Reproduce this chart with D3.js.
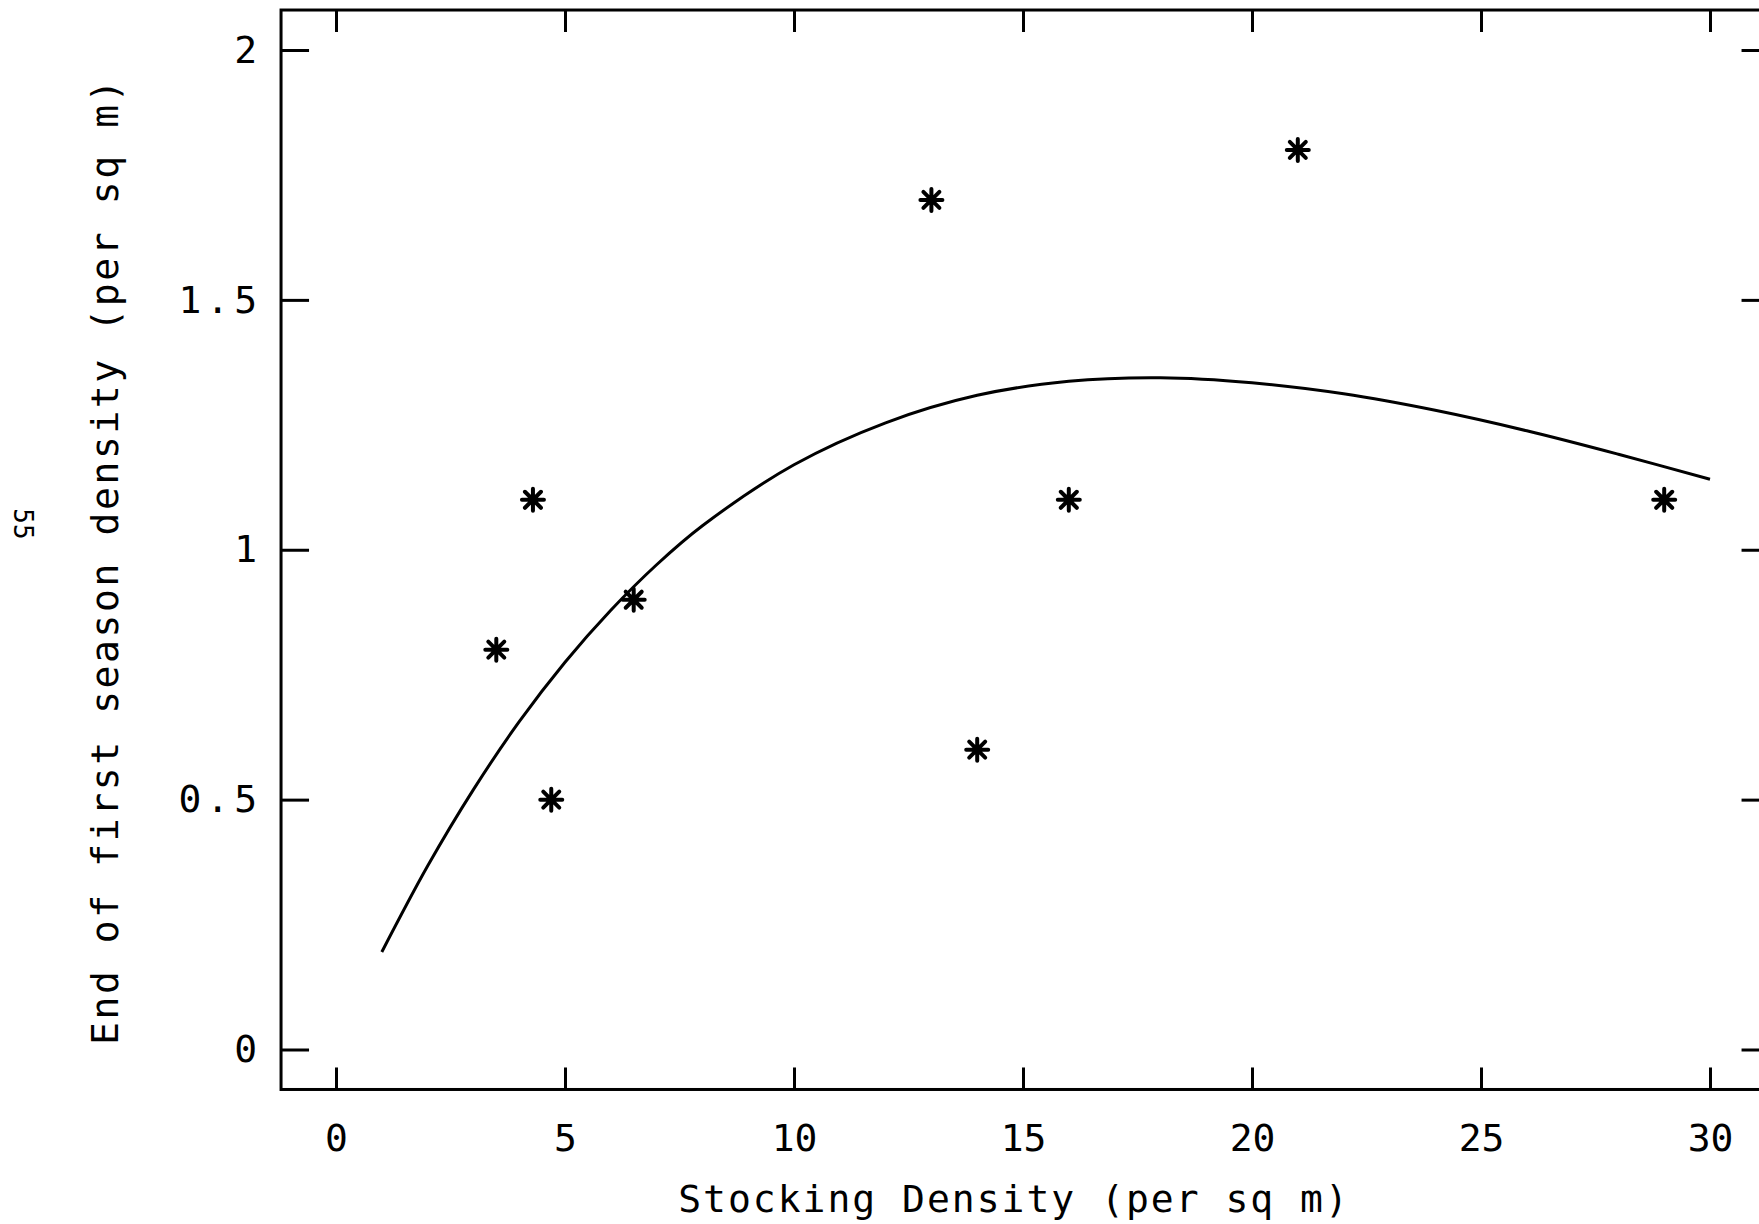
<!DOCTYPE html>
<html>
<head>
<meta charset="utf-8">
<script src="https://cdn.jsdelivr.net/npm/d3@7"></script>
<style>
  html, body { margin: 0; padding: 0; background: #fff; }
  svg { display: block; }
  text { font-family: "DejaVu Sans Mono", "Liberation Mono", monospace; fill: #000; }
</style>
</head>
<body>
<svg id="chart" width="1759" height="1224"></svg>
<script>
// Observed stocking density vs. end of first season density
const stockX = [3.5, 4.3, 4.7, 6.5, 13, 14, 16, 21, 29];
const seasonY = [0.8, 1.1, 0.5, 0.9, 1.7, 0.6, 1.1, 1.8, 1.1];

// Fitted curve, sampled along its length
const fitX = [1, 2, 3, 4, 5, 6, 7, 8, 10, 12, 14, 16, 18, 20, 22, 24, 26, 28, 30];
const fitY = [0.195, 0.367, 0.52, 0.656, 0.775, 0.879, 0.97, 1.048, 1.17, 1.254, 1.309, 1.337, 1.344, 1.334, 1.312, 1.279, 1.238, 1.191, 1.141];

// Axis ticks and labels
const xTicks = [0, 5, 10, 15, 20, 25, 30];
const xTickLabels = ["0", "5", "10", "15", "20", "25", "30"];
const yTicks = [0, 0.5, 1, 1.5, 2];
const yTickLabels = ["0", "0.5", "1", "1.5", "2"];

const xTitle = "Stocking Density (per sq m)";
const yTitle = "End of first season density (per sq m)";
const pageNo = "55";

const svg = d3.select("#chart");

const x = d3.scaleLinear().domain([0, 30]).range([336, 1710]);
const y = d3.scaleLinear().domain([0, 2]).range([1049.5, 50]);

// plot frame (runs off the right edge of the page)
const fx0 = x(-1.2), fx1 = x(31.3), fy0 = y(2.08), fy1 = y(-0.08);
svg.append("rect")
  .attr("x", fx0).attr("y", fy0)
  .attr("width", fx1 - fx0).attr("height", fy1 - fy0)
  .attr("fill", "none").attr("stroke", "#000").attr("stroke-width", 3);

const fmtX = (d) => xTickLabels[xTicks.indexOf(d)];
const fmtY = (d) => yTickLabels[yTicks.indexOf(d)];

function styleAxis(g) {
  g.select(".domain").remove();
  g.selectAll(".tick line").attr("stroke", "#000").attr("stroke-width", 3);
  g.selectAll(".tick text").attr("font-size", 38).attr("fill", "#000");
}

// bottom axis: inward ticks, labels below
svg.append("g")
  .attr("transform", `translate(0,${fy1})`)
  .call(d3.axisBottom(x).tickValues(xTicks).tickFormat(fmtX).tickSizeInner(-22).tickSizeOuter(0).tickPadding(35))
  .call(styleAxis);

// top axis: ticks only
svg.append("g")
  .attr("transform", `translate(0,${fy0})`)
  .call(d3.axisTop(x).tickValues(xTicks).tickFormat("").tickSizeInner(-22).tickSizeOuter(0))
  .call(styleAxis);

// left axis: inward ticks, labels to the left
svg.append("g")
  .attr("transform", `translate(${fx0},0)`)
  .call(d3.axisLeft(y).tickValues(yTicks).tickFormat(fmtY).tickSizeInner(-28).tickSizeOuter(0).tickPadding(19))
  .call(styleAxis)
  .call(g => g.selectAll(".tick text").attr("letter-spacing", 5));

// right axis: ticks only
svg.append("g")
  .attr("transform", `translate(${fx1},0)`)
  .call(d3.axisRight(y).tickValues(yTicks).tickFormat("").tickSizeInner(-28).tickSizeOuter(0))
  .call(styleAxis);

// axis titles
svg.append("text")
  .attr("x", 1014).attr("y", 1212)
  .attr("text-anchor", "middle")
  .attr("font-size", 38)
  .attr("letter-spacing", 2)
  .text(xTitle);

svg.append("text")
  .attr("transform", "translate(118,561) rotate(-90)")
  .attr("text-anchor", "middle")
  .attr("font-size", 38)
  .attr("letter-spacing", 2.6)
  .text(yTitle);

// page number in the margin
svg.append("text")
  .attr("transform", "translate(14,524) rotate(90)")
  .attr("text-anchor", "middle")
  .attr("font-size", 26)
  .text(pageNo);

// fitted curve
const line = d3.line()
  .x((d, i) => x(fitX[i]))
  .y((d, i) => y(fitY[i]))
  .curve(d3.curveCatmullRom);

svg.append("path")
  .datum(fitX)
  .attr("d", line)
  .attr("fill", "none")
  .attr("stroke", "#000")
  .attr("stroke-width", 3);

// asterisk markers
const r = 11, rd = 8;
const star = `M${-r},0L${r},0M0,${-r}L0,${r}M${-rd},${-rd}L${rd},${rd}M${-rd},${rd}L${rd},${-rd}`;
svg.append("g").selectAll("path")
  .data(stockX)
  .join("path")
  .attr("transform", (d, i) => `translate(${x(d)},${y(seasonY[i])})`)
  .attr("d", star)
  .attr("fill", "none")
  .attr("stroke", "#000")
  .attr("stroke-width", 4)
  .attr("stroke-linecap", "round");
</script>
</body>
</html>
